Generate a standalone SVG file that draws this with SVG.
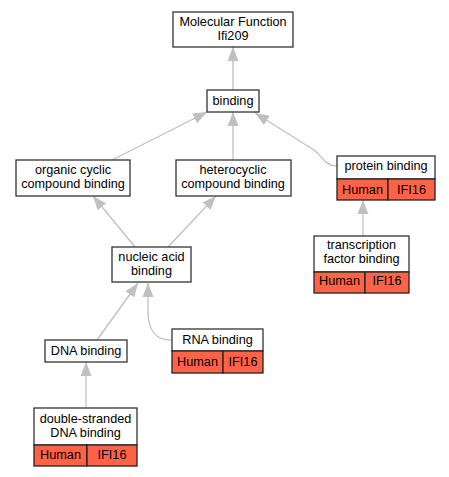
<svg xmlns="http://www.w3.org/2000/svg" width="449" height="477" viewBox="0 0 449 477">
<style>
.box{fill:#fff;stroke:#333;stroke-width:1.3}
.red{fill:#ff6347;stroke:#222;stroke-width:1.3}
.t{font-family:"Liberation Sans",Arial,sans-serif;font-size:12.7px;fill:#000;text-anchor:middle}
.e{fill:none;stroke:#c0c0c0;stroke-width:1.3;marker-end:url(#ah)}
</style>
<defs>
<marker id="ah" markerUnits="userSpaceOnUse" markerWidth="14" markerHeight="12" refX="14" refY="5.5" orient="auto" viewBox="0 0 14 11">
<path d="M0,0 L14,5.5 L0,11 Z" fill="#c0c0c0"/>
</marker>
</defs>
<rect width="449" height="477" fill="#fff"/>
<g id="edges">
<path class="e" d="M233,90 L233,47"/>
<path class="e" d="M112,160 L207,112"/>
<path class="e" d="M233,160 L233,112"/>
<path class="e" d="M337,166 C325,166 322,156 314,150 L255,113"/>
<path class="e" d="M135,247 L93,196"/>
<path class="e" d="M168,247 L216,196"/>
<path class="e" d="M363,236 L363,200"/>
<path class="e" d="M97,340 L138,283"/>
<path class="e" d="M171,340 C156,340 148,330 148,312 L148,283"/>
<path class="e" d="M86,408 L86,362"/>
</g>
<g id="mf">
<rect class="box" x="173" y="12" width="120" height="35"/>
<text class="t" x="233" y="25.5">Molecular Function</text>
<text class="t" x="233" y="39.5">Ifi209</text>
</g>
<g id="binding">
<rect class="box" x="207" y="90" width="52" height="22"/>
<text class="t" x="233" y="105">binding</text>
</g>
<g id="organic">
<rect class="box" x="16" y="160" width="114" height="36"/>
<text class="t" x="73" y="173.5">organic cyclic</text>
<text class="t" x="73" y="187.5">compound binding</text>
</g>
<g id="hetero">
<rect class="box" x="176" y="160" width="115" height="36"/>
<text class="t" x="233" y="173.5">heterocyclic</text>
<text class="t" x="233" y="187.5">compound binding</text>
</g>
<g id="protein">
<rect class="box" x="337" y="156" width="98" height="23"/>
<rect class="red" x="337" y="179" width="51" height="21"/>
<rect class="red" x="388" y="179" width="47" height="21"/>
<text class="t" x="386" y="170">protein binding</text>
<text class="t" x="362.5" y="194">Human</text>
<text class="t" x="411.5" y="194">IFI16</text>
</g>
<g id="nucleic">
<rect class="box" x="112" y="247" width="79" height="35"/>
<text class="t" x="151.5" y="260.5">nucleic acid</text>
<text class="t" x="151.5" y="274.5">binding</text>
</g>
<g id="transcription">
<rect class="box" x="314" y="236" width="95" height="36"/>
<rect class="red" x="314" y="272" width="51" height="21"/>
<rect class="red" x="365" y="272" width="44" height="21"/>
<text class="t" x="361.5" y="248.5">transcription</text>
<text class="t" x="361.5" y="262.5">factor binding</text>
<text class="t" x="339.5" y="285">Human</text>
<text class="t" x="387" y="285">IFI16</text>
</g>
<g id="dna">
<rect class="box" x="45" y="340" width="82" height="22"/>
<text class="t" x="86" y="355">DNA binding</text>
</g>
<g id="rna">
<rect class="box" x="172" y="329" width="91" height="22"/>
<rect class="red" x="172" y="351" width="51" height="22"/>
<rect class="red" x="223" y="351" width="40" height="22"/>
<text class="t" x="217.5" y="344">RNA binding</text>
<text class="t" x="197.5" y="366">Human</text>
<text class="t" x="243" y="366">IFI16</text>
</g>
<g id="dsdna">
<rect class="box" x="34" y="408" width="103" height="37"/>
<rect class="red" x="34" y="445" width="53" height="21"/>
<rect class="red" x="87" y="445" width="50" height="21"/>
<text class="t" x="85.5" y="422.5">double-stranded</text>
<text class="t" x="85.5" y="436.5">DNA binding</text>
<text class="t" x="60.5" y="459">Human</text>
<text class="t" x="112" y="459">IFI16</text>
</g>
</svg>
